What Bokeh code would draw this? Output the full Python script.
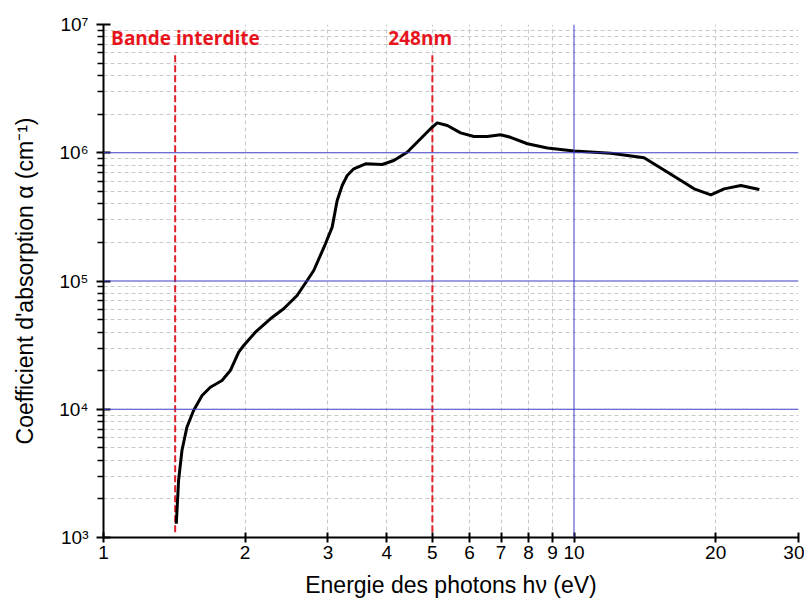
from bokeh.plotting import figure
from bokeh.models import FixedTicker, CustomJSTickFormatter, Span, ColumnDataSource
from bokeh.embed import file_html
from bokeh.resources import INLINE
from bokeh.core.properties import value

# ---- data ----
energy = [1.428, 1.444, 1.468, 1.504, 1.554, 1.620, 1.687, 1.786, 1.860, 1.938,
          1.986, 2.103, 2.263, 2.415, 2.579, 2.709, 2.798, 2.963, 3.062, 3.138,
          3.216, 3.296, 3.404, 3.605, 3.912, 4.14, 4.42, 4.72, 4.956, 5.12,
          5.38, 5.74, 6.13, 6.54, 6.98, 7.33, 7.96, 8.78, 10.0, 11.97,
          14.09, 15.81, 18.0, 19.54, 20.85, 22.63, 24.77]
alpha = [1279, 2782, 4768, 7244, 9777, 12800, 14860, 16750, 20050, 27850,
         31400, 39900, 50750, 60700, 77100, 100900, 120700, 195000, 263000, 424500,
         555500, 665000, 750000, 820000, 810000, 870000, 1.01e6, 1.285e6, 1.54e6, 1.71e6,
         1.63e6, 1.43e6, 1.34e6, 1.34e6, 1.38e6, 1.32e6, 1.175e6, 1.09e6, 1.03e6, 0.99e6,
         0.913e6, 0.705e6, 0.523e6, 0.470e6, 0.523e6, 0.556e6, 0.517e6]

x_ticks = [1, 2, 3, 4, 5, 6, 7, 8, 9, 10, 20, 30]
x_grid_ticks = [2, 3, 4, 5, 6, 7, 8, 9, 20]
y_ticks = [1e3, 1e4, 1e5, 1e6, 1e7]
y_minor = [m * 10 ** d for d in range(3, 7) for m in range(2, 10)]
blue_y = [1e4, 1e5, 1e6]
blue_x = [10]

marker_energy = [1.42, 5.0]          # band gap, 248 nm laser
marker_labels = ["Bande interdite", "248nm"]

# ---- annotation positions ----
marker_bottom = 1.1e3
marker_top = 6.0e6
label_x = [1.038, 4.03]
label_y = [7.9e6, 7.9e6]

p = figure(width=804, height=606, x_axis_type="log", y_axis_type="log",
           x_range=(1, 30), y_range=(1e3, 1e7),
           output_backend="svg", toolbar_location=None,
           min_border_left=103, min_border_right=6, min_border_top=24, min_border_bottom=69)
p.outline_line_color = None
p.background_fill_color = "white"

# grids
p.xgrid.ticker = FixedTicker(ticks=x_grid_ticks)
p.xgrid.grid_line_color = "#c8c8c8"
p.xgrid.grid_line_dash = "4 3"
p.xgrid.grid_line_width = 1
p.ygrid.ticker = FixedTicker(ticks=y_ticks, minor_ticks=y_minor)
p.ygrid.grid_line_color = None
p.ygrid.minor_grid_line_color = "#c8c8c8"
p.ygrid.minor_grid_line_dash = "4 3"
p.ygrid.minor_grid_line_width = 1

for yv in blue_y:
    p.add_layout(Span(location=yv, dimension="width", line_color="#3c3cc8", line_width=1))
for xv in blue_x:
    p.add_layout(Span(location=xv, dimension="height", line_color="#3c3cc8", line_width=1))

# marker lines
msrc = ColumnDataSource(dict(x=marker_energy, y0=[marker_bottom] * 2, y1=[marker_top] * 2,
                             lx=label_x, ly=label_y, txt=marker_labels))
p.segment(x0="x", y0="y0", x1="x", y1="y1", source=msrc, line_color="#e0202a",
          line_width=2, line_dash="7 3")
p.text(x="lx", y="ly", text="txt", source=msrc, text_color="#e8141c",
       text_font=value("Open Sans"), text_font_style="bold", text_font_size="19px",
       text_align="left", text_baseline="middle")

# curve
p.line(energy, alpha, line_color="black", line_width=3)

# axes
sup_js = """
const sup = {"0":"\u2070","1":"\u00b9","2":"\u00b2","3":"\u00b3","4":"\u2074","5":"\u2075","6":"\u2076","7":"\u2077","8":"\u2078","9":"\u2079","-":"\u207b"};
const e = Math.round(Math.log10(tick));
return "10" + String(e).split("").map(c => sup[c]).join("");
"""
p.yaxis.ticker = FixedTicker(ticks=y_ticks, minor_ticks=y_minor)
p.yaxis.formatter = CustomJSTickFormatter(code=sup_js)
p.xaxis.ticker = FixedTicker(ticks=x_ticks)
p.xaxis.formatter = CustomJSTickFormatter(code="return tick.toFixed(0);")

for ax in (p.xaxis[0], p.yaxis[0]):
    ax.axis_line_width = 2
    ax.axis_line_color = "black"
    ax.major_tick_line_width = 2
    ax.major_tick_line_color = "black"
    ax.major_label_text_font = "Liberation Sans"
    ax.major_label_text_font_size = "19px"
    ax.major_label_text_color = "black"
    ax.axis_label_text_font = "Liberation Sans"
    ax.axis_label_text_font_size = "23px"
    ax.axis_label_text_font_style = "normal"
    ax.axis_label_text_color = "black"

p.xaxis.major_tick_in = 5
p.xaxis.major_tick_out = 5
p.xaxis.minor_tick_line_color = None
p.xaxis.major_label_standoff = 3
p.xaxis.axis_label = "Energie des photons h\u03bd (eV)"
p.xaxis.axis_label_standoff = 10

p.yaxis.major_tick_in = 7
p.yaxis.major_tick_out = 7
p.yaxis.minor_tick_in = 0
p.yaxis.minor_tick_out = 6
p.yaxis.minor_tick_line_width = 1.5
p.yaxis.minor_tick_line_color = "black"
p.yaxis.major_label_standoff = 8
p.yaxis.axis_label = "Coefficient d'absorption \u03b1 (cm\u207b\u00b9)"
p.yaxis.axis_label_standoff = 18

with open("out.html", "w", encoding="utf-8") as f:
    f.write(file_html(p, INLINE))
